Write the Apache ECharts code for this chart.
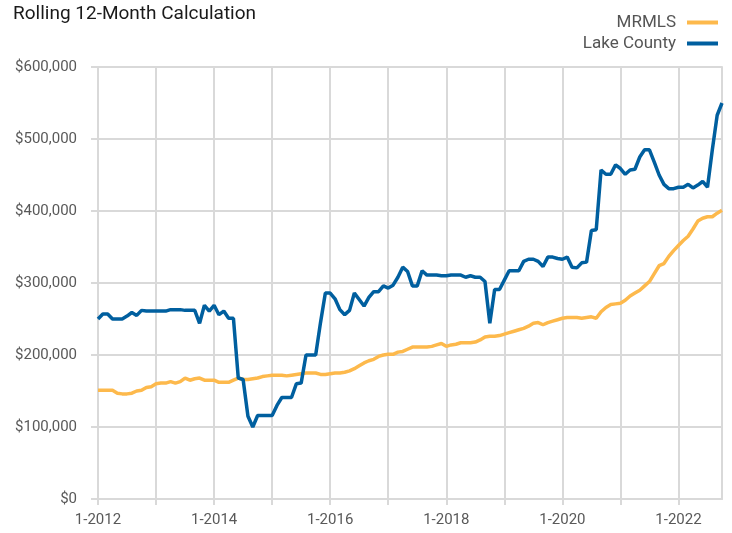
<!DOCTYPE html>
<html lang="en">
<head>
    <meta charset="UTF-8">
    <title>Rolling 12-Month Calculation</title>
    <script src="https://cdn.jsdelivr.net/npm/echarts@6/dist/echarts.min.js"></script>
    <style>
        html, body { margin: 0; padding: 0; background: #fff; }
        #chart { width: 732px; height: 533px; }
    </style>
</head>
<body>
    <div id="chart"></div>
    <script>
        // monthly, 1-2012 .. 10-2022
        var startYear = 2012;
        var monthCount = 130;

        // rolling 12-month values, in thousands of dollars
        var mrmls = [
            151, 151, 151, 151, 147, 146, 146, 147, 150, 151, 155, 156,
            160, 161, 161, 163, 161, 163, 168, 165, 167, 168, 165, 165,
            165, 162, 162, 162, 165, 168, 166, 166, 167, 168, 170, 171,
            172, 172, 172, 171, 172, 173, 174, 175, 175, 175, 173, 173,
            174, 175, 175, 176, 178, 181, 185, 189, 192, 194, 198, 200,
            201, 201, 204, 205, 208, 211, 211, 211, 211, 212, 214, 216,
            212, 214, 215, 217, 217, 217, 218, 221, 225, 226, 226, 227,
            229, 231, 233, 235, 237, 240, 244, 245, 242, 245, 247, 249,
            251, 252, 252, 252, 251, 252, 253, 251, 260, 266, 270, 271,
            272, 276, 282, 286, 290, 296, 302, 313, 324, 327, 337, 345,
            352, 359, 365, 375, 386, 390, 392, 392, 397, 401
        ];
        var lakeCounty = [
            250, 257, 257, 250, 250, 250, 254, 259, 255, 262, 261, 261,
            261, 261, 261, 263, 263, 263, 262, 262, 262, 244, 269, 261,
            269, 256, 261, 251, 251, 168, 166, 115, 100, 116, 116, 116,
            116, 130, 141, 141, 141, 160, 161, 200, 200, 200, 245, 286,
            286, 278, 263, 256, 262, 286, 277, 268, 280, 288, 288, 296,
            293, 297, 308, 322, 316, 296, 296, 317, 311, 311, 311, 310,
            310, 311, 311, 311, 308, 310, 308, 308, 302, 244, 291, 291,
            304, 317, 317, 317, 330, 333, 333, 330, 323, 336, 336, 334,
            333, 336, 322, 321, 328, 329, 373, 374, 457, 451, 451, 464,
            459, 451, 457, 458, 475, 485, 485, 468, 450, 437, 431, 431,
            433, 433, 437, 432, 436, 441, 433, 485, 533, 550
        ];

        var yTicks = [0, 100000, 200000, 300000, 400000, 500000, 600000];

        var months = [];
        for (var i = 0; i < monthCount; i++) {
            months.push((i % 12 + 1) + '-' + (startYear + Math.floor(i / 12)));
        }

        function toDollars(arr) {
            return arr.map(function (v) { return v * 1000; });
        }

        var gridColor = '#d9d9d9';
        var font = 'Roboto, "Liberation Sans", Arial, sans-serif';

        var chart = echarts.init(document.getElementById('chart'), null, { renderer: 'canvas' });
        chart.setOption({
            animation: false,
            backgroundColor: '#fff',
            title: {
                text: 'Rolling 12-Month Calculation',
                left: 8,
                top: 0,
                textStyle: { fontFamily: font, fontSize: 19, fontWeight: 'normal', color: '#1a1a1a' }
            },
            legend: {
                orient: 'vertical',
                right: 9,
                top: 9,
                align: 'right',
                itemGap: 4,
                icon: 'rect',
                itemWidth: 31,
                itemHeight: 4,
                textStyle: { fontFamily: font, fontSize: 17, color: '#555', padding: [0, 6, 0, 0] },
                data: ['MRMLS', 'Lake County']
            },
            grid: { left: 98, right: 10, top: 67, bottom: 34 },
            xAxis: {
                type: 'category',
                boundaryGap: false,
                data: months,
                axisLine: { lineStyle: { color: gridColor, width: 2 } },
                axisTick: { show: true, interval: 11, length: 6, lineStyle: { color: gridColor, width: 2 } },
                splitLine: { show: true, interval: 11, lineStyle: { color: gridColor, width: 2 } },
                axisLabel: { interval: 23, margin: 14, fontFamily: font, fontSize: 15, color: '#595959' }
            },
            yAxis: [{
                type: 'value',
                min: yTicks[0],
                max: yTicks[yTicks.length - 1],
                interval: yTicks[1] - yTicks[0],
                axisLine: { show: true, lineStyle: { color: gridColor, width: 2 } },
                axisTick: { show: true, length: 7, lineStyle: { color: gridColor, width: 2 } },
                splitLine: { lineStyle: { color: gridColor, width: 2 } },
                axisLabel: {
                    margin: 21,
                    fontFamily: font,
                    fontSize: 15,
                    color: '#595959',
                    formatter: function (v) { return '$' + v.toLocaleString('en-US'); }
                }
            }, {
                type: 'value',
                position: 'right',
                min: 0,
                max: 1,
                axisLine: { show: true, lineStyle: { color: gridColor, width: 2 } },
                axisTick: { show: false },
                axisLabel: { show: false },
                splitLine: { show: false }
            }],
            series: [{
                name: 'MRMLS',
                type: 'line',
                data: toDollars(mrmls),
                showSymbol: false,
                symbol: 'none',
                color: '#fdb94c',
                lineStyle: { width: 3.5, color: '#fdb94c' }
            }, {
                name: 'Lake County',
                type: 'line',
                data: toDollars(lakeCounty),
                showSymbol: false,
                symbol: 'none',
                color: '#005f9f',
                lineStyle: { width: 3.5, color: '#005f9f' }
            }]
        });
    </script>
</body>
</html>
